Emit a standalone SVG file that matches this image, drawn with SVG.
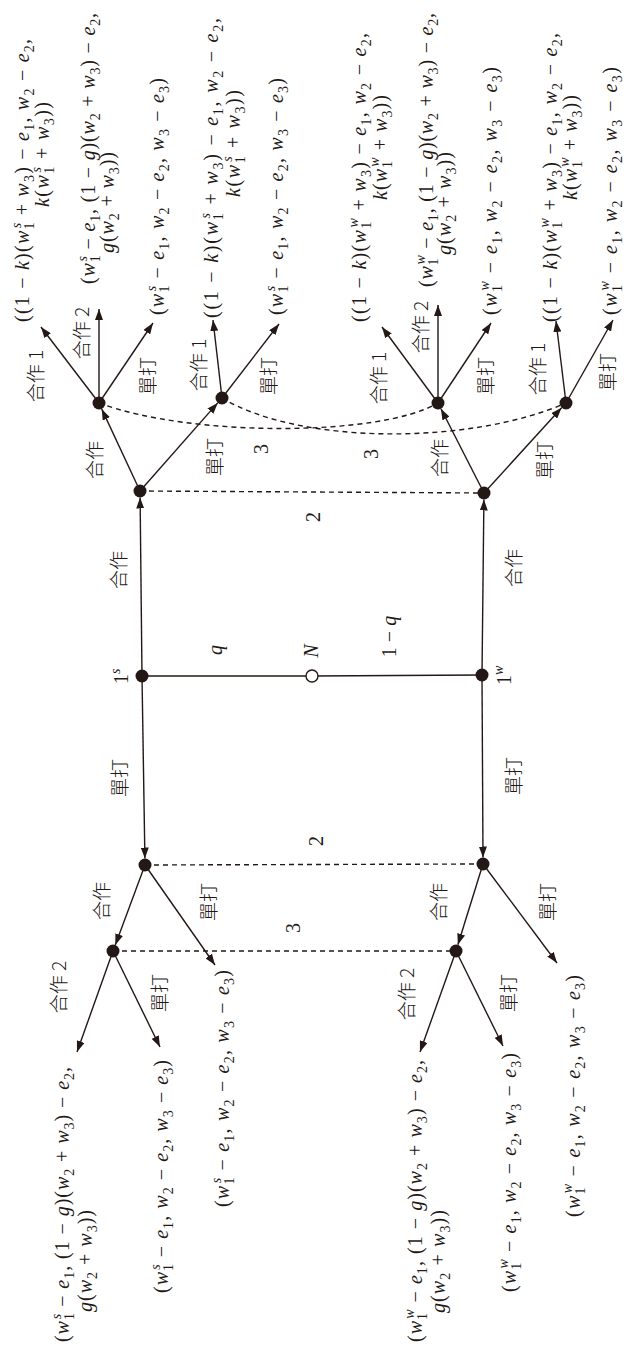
<svg xmlns="http://www.w3.org/2000/svg" width="626" height="1349" viewBox="0 0 626 1349">
<defs>
<marker id="ah" viewBox="0 0 11 8" refX="11" refY="4" markerWidth="11" markerHeight="8" markerUnits="userSpaceOnUse" orient="auto"><path d="M0,0L11,4L0,8z" fill="#231815"/></marker>
<style>
.e{stroke:#231815;stroke-width:1.4;fill:none}
.a{marker-end:url(#ah)}
.d{stroke-dasharray:5 4}
.n{fill:#231815}
.o{fill:#fff;stroke:#231815;stroke-width:1.4}
.m{font-family:"Liberation Serif",serif;font-size:20px;fill:#231815}
.i{font-style:italic}
.s{font-size:14px}
.c{font-family:"Noto Sans CJK TC","Noto Sans CJK SC",sans-serif;font-size:19px;font-weight:300;fill:#231815}
.l{text-anchor:middle;dominant-baseline:central}
</style>
</defs>
<rect width="626" height="1349" fill="#fff"/>
<g id="connectors">
<line class="e" x1="142" y1="676" x2="312" y2="676"/>
<line class="e" x1="312" y1="676" x2="482" y2="675"/>
<line class="e a" x1="142" y1="676" x2="140.1" y2="497.5"/>
<line class="e a" x1="142" y1="676" x2="144.9" y2="858.5"/>
<line class="e a" x1="482" y1="675" x2="483.9" y2="499.5"/>
<line class="e a" x1="482" y1="675" x2="483" y2="857.5"/>
<line class="e d" x1="140" y1="491" x2="484" y2="493"/>
<line class="e d" x1="145" y1="865" x2="483" y2="864"/>
<line class="e d" x1="113" y1="951" x2="456" y2="951"/>
<path class="e d" d="M99,403C190,437 380,437 438,403"/>
<path class="e d" d="M222,398C300,445 470,445 566,403"/>
<line class="e a" x1="140" y1="491" x2="101.7" y2="408.9"/>
<line class="e a" x1="140" y1="491" x2="217.7" y2="402.9"/>
<line class="e a" x1="484" y1="493" x2="441" y2="408.8"/>
<line class="e a" x1="484" y1="493" x2="561.6" y2="407.8"/>
<line class="e a" x1="145" y1="865" x2="115.3" y2="944.9"/>
<line class="e a" x1="483" y1="864" x2="457.9" y2="944.8"/>
<line class="e a" x1="145" y1="865" x2="215" y2="965"/>
<line class="e a" x1="483" y1="864" x2="557" y2="963"/>
<line class="e a" x1="113" y1="951" x2="77" y2="1052"/>
<line class="e a" x1="113" y1="951" x2="160" y2="1047"/>
<line class="e a" x1="456" y1="951" x2="420" y2="1052"/>
<line class="e a" x1="456" y1="951" x2="503" y2="1046"/>
<line class="e a" x1="99" y1="403" x2="41" y2="327"/>
<line class="e a" x1="99" y1="403" x2="99" y2="309"/>
<line class="e a" x1="99" y1="403" x2="153" y2="323"/>
<line class="e a" x1="222" y1="398" x2="213" y2="320"/>
<line class="e a" x1="222" y1="398" x2="279" y2="324"/>
<line class="e a" x1="438" y1="403" x2="382" y2="327"/>
<line class="e a" x1="438" y1="403" x2="438" y2="305"/>
<line class="e a" x1="438" y1="403" x2="491" y2="323"/>
<line class="e a" x1="566" y1="403" x2="556" y2="321"/>
<line class="e a" x1="566" y1="403" x2="613" y2="320"/>
</g>
<g id="n-N"><circle class="o" cx="312" cy="676" r="6"/></g>
<g id="n-1s"><circle class="n" cx="142" cy="676" r="6.5"/></g>
<g id="n-1w"><circle class="n" cx="482" cy="675" r="6.5"/></g>
<g id="n-2s-up"><circle class="n" cx="140" cy="491" r="6.5"/></g>
<g id="n-2w-up"><circle class="n" cx="484" cy="493" r="6.5"/></g>
<g id="n-3s-c"><circle class="n" cx="99" cy="403" r="6.5"/></g>
<g id="n-3s-d"><circle class="n" cx="222" cy="398" r="6.5"/></g>
<g id="n-3w-c"><circle class="n" cx="438" cy="403" r="6.5"/></g>
<g id="n-3w-d"><circle class="n" cx="566" cy="403" r="6.5"/></g>
<g id="n-2s-low"><circle class="n" cx="145" cy="865" r="6.5"/></g>
<g id="n-2w-low"><circle class="n" cx="483" cy="864" r="6.5"/></g>
<g id="n-3s-low"><circle class="n" cx="113" cy="951" r="6.5"/></g>
<g id="n-3w-low"><circle class="n" cx="456" cy="951" r="6.5"/></g>
<g id="labels">
<text class="c l" transform="translate(34,376) rotate(-90)">合作 1</text>
<text class="c l" transform="translate(80,333) rotate(-90)">合作 2</text>
<text class="c l" transform="translate(146,376) rotate(-90)">單打</text>
<text class="c l" transform="translate(197,365) rotate(-90)">合作 1</text>
<text class="c l" transform="translate(267,376) rotate(-90)">單打</text>
<text class="c l" transform="translate(377,378) rotate(-90)">合作 1</text>
<text class="c l" transform="translate(419,327) rotate(-90)">合作 2</text>
<text class="c l" transform="translate(484,376) rotate(-90)">單打</text>
<text class="c l" transform="translate(536,369) rotate(-90)">合作 1</text>
<text class="c l" transform="translate(606,372) rotate(-90)">單打</text>
<text class="c l" transform="translate(93,460) rotate(-90)">合作</text>
<text class="c l" transform="translate(213,457) rotate(-90)">單打</text>
<text class="c l" transform="translate(438,458) rotate(-90)">合作</text>
<text class="c l" transform="translate(543,460) rotate(-90)">單打</text>
<text class="c l" transform="translate(117,570) rotate(-90)">合作</text>
<text class="c l" transform="translate(512,568) rotate(-90)">合作</text>
<text class="c l" transform="translate(118,778) rotate(-90)">單打</text>
<text class="c l" transform="translate(512,776) rotate(-90)">單打</text>
<text class="c l" transform="translate(100,901) rotate(-90)">合作</text>
<text class="c l" transform="translate(207,902) rotate(-90)">單打</text>
<text class="c l" transform="translate(437,902) rotate(-90)">合作</text>
<text class="c l" transform="translate(546,902) rotate(-90)">單打</text>
<text class="c l" transform="translate(57,987) rotate(-90)">合作 2</text>
<text class="c l" transform="translate(158,993) rotate(-90)">單打</text>
<text class="c l" transform="translate(405,994) rotate(-90)">合作 2</text>
<text class="c l" transform="translate(507,993) rotate(-90)">單打</text>
<text class="m" text-anchor="middle" transform="translate(268,449) rotate(-90)">3</text>
<text class="m" text-anchor="middle" transform="translate(378,454) rotate(-90)">3</text>
<text class="m" text-anchor="middle" transform="translate(320,517) rotate(-90)">2</text>
<text class="m" text-anchor="middle" transform="translate(323,841) rotate(-90)">2</text>
<text class="m" text-anchor="middle" transform="translate(300,928) rotate(-90)">3</text>
<text class="m" transform="translate(128,684) rotate(-90)">1<tspan class="s i" dy="-8">s</tspan></text>
<text class="m" transform="translate(511,685) rotate(-90)">1<tspan class="s i" dy="-8">w</tspan></text>
<text class="m i" text-anchor="middle" transform="translate(222,650) rotate(-90)">q</text>
<text class="m i" text-anchor="middle" transform="translate(318,651) rotate(-90)">N</text>
<text class="m" text-anchor="middle" transform="translate(396,636.5) rotate(-90)">1 − <tspan class="i">q</tspan></text>
</g>
<g id="payoff-s-cc1">
<text class="m" transform="translate(29,322) rotate(-90)" textLength="283">((1 − <tspan class="i">k</tspan>)(<tspan class="i">w</tspan><tspan class="s" dy="5">1</tspan><tspan class="s i" dx="-7" dy="-13">s</tspan><tspan dy="8"> + </tspan><tspan class="i">w</tspan><tspan class="s" dy="5">3</tspan><tspan dy="-5">) − </tspan><tspan class="i">e</tspan><tspan class="s" dy="5">1</tspan><tspan dy="-5">, </tspan><tspan class="i">w</tspan><tspan class="s" dy="5">2</tspan><tspan dy="-5"> − </tspan><tspan class="i">e</tspan><tspan class="s" dy="5">2</tspan><tspan dy="-5">,</tspan></text>
<text class="m" transform="translate(49,207) rotate(-90)" textLength="105"><tspan class="i">k</tspan>(<tspan class="i">w</tspan><tspan class="s" dy="5">1</tspan><tspan class="s i" dx="-7" dy="-13">s</tspan><tspan dy="8"> + </tspan><tspan class="i">w</tspan><tspan class="s" dy="5">3</tspan><tspan dy="-5">))</tspan></text>
</g>
<g id="payoff-s-cc2">
<text class="m" transform="translate(95,284) rotate(-90)" textLength="271">(<tspan class="i">w</tspan><tspan class="s" dy="5">1</tspan><tspan class="s i" dx="-7" dy="-13">s</tspan><tspan dy="8"> − </tspan><tspan class="i">e</tspan><tspan class="s" dy="5">1</tspan><tspan dy="-5">, (1 − </tspan><tspan class="i">g</tspan>)(<tspan class="i">w</tspan><tspan class="s" dy="5">2</tspan><tspan dy="-5"> + </tspan><tspan class="i">w</tspan><tspan class="s" dy="5">3</tspan><tspan dy="-5">) − </tspan><tspan class="i">e</tspan><tspan class="s" dy="5">2</tspan><tspan dy="-5">,</tspan></text>
<text class="m" transform="translate(114,253) rotate(-90)" textLength="101"><tspan class="i">g</tspan>(<tspan class="i">w</tspan><tspan class="s" dy="5">2</tspan><tspan dy="-5"> + </tspan><tspan class="i">w</tspan><tspan class="s" dy="5">3</tspan><tspan dy="-5">))</tspan></text>
</g>
<g id="payoff-s-cd">
<text class="m" transform="translate(164,315) rotate(-90)" textLength="237">(<tspan class="i">w</tspan><tspan class="s" dy="5">1</tspan><tspan class="s i" dx="-7" dy="-13">s</tspan><tspan dy="8"> − </tspan><tspan class="i">e</tspan><tspan class="s" dy="5">1</tspan><tspan dy="-5">, </tspan><tspan class="i">w</tspan><tspan class="s" dy="5">2</tspan><tspan dy="-5"> − </tspan><tspan class="i">e</tspan><tspan class="s" dy="5">2</tspan><tspan dy="-5">, </tspan><tspan class="i">w</tspan><tspan class="s" dy="5">3</tspan><tspan dy="-5"> − </tspan><tspan class="i">e</tspan><tspan class="s" dy="5">3</tspan><tspan dy="-5">)</tspan></text>
</g>
<g id="payoff-s-dc">
<text class="m" transform="translate(218,318) rotate(-90)" textLength="300">((1 − <tspan class="i">k</tspan>)(<tspan class="i">w</tspan><tspan class="s" dy="5">1</tspan><tspan class="s i" dx="-7" dy="-13">s</tspan><tspan dy="8"> + </tspan><tspan class="i">w</tspan><tspan class="s" dy="5">3</tspan><tspan dy="-5">) − </tspan><tspan class="i">e</tspan><tspan class="s" dy="5">1</tspan><tspan dy="-5">, </tspan><tspan class="i">w</tspan><tspan class="s" dy="5">2</tspan><tspan dy="-5"> − </tspan><tspan class="i">e</tspan><tspan class="s" dy="5">2</tspan><tspan dy="-5">,</tspan></text>
<text class="m" transform="translate(240,197) rotate(-90)" textLength="107"><tspan class="i">k</tspan>(<tspan class="i">w</tspan><tspan class="s" dy="5">1</tspan><tspan class="s i" dx="-7" dy="-13">s</tspan><tspan dy="8"> + </tspan><tspan class="i">w</tspan><tspan class="s" dy="5">3</tspan><tspan dy="-5">))</tspan></text>
</g>
<g id="payoff-s-dd">
<text class="m" transform="translate(283,315) rotate(-90)" textLength="237">(<tspan class="i">w</tspan><tspan class="s" dy="5">1</tspan><tspan class="s i" dx="-7" dy="-13">s</tspan><tspan dy="8"> − </tspan><tspan class="i">e</tspan><tspan class="s" dy="5">1</tspan><tspan dy="-5">, </tspan><tspan class="i">w</tspan><tspan class="s" dy="5">2</tspan><tspan dy="-5"> − </tspan><tspan class="i">e</tspan><tspan class="s" dy="5">2</tspan><tspan dy="-5">, </tspan><tspan class="i">w</tspan><tspan class="s" dy="5">3</tspan><tspan dy="-5"> − </tspan><tspan class="i">e</tspan><tspan class="s" dy="5">3</tspan><tspan dy="-5">)</tspan></text>
</g>
<g id="payoff-w-cc1">
<text class="m" transform="translate(366,322) rotate(-90)" textLength="289">((1 − <tspan class="i">k</tspan>)(<tspan class="i">w</tspan><tspan class="s" dy="5">1</tspan><tspan class="s i" dx="-7" dy="-13">w</tspan><tspan dy="8"> + </tspan><tspan class="i">w</tspan><tspan class="s" dy="5">3</tspan><tspan dy="-5">) − </tspan><tspan class="i">e</tspan><tspan class="s" dy="5">1</tspan><tspan dy="-5">, </tspan><tspan class="i">w</tspan><tspan class="s" dy="5">2</tspan><tspan dy="-5"> − </tspan><tspan class="i">e</tspan><tspan class="s" dy="5">2</tspan><tspan dy="-5">,</tspan></text>
<text class="m" transform="translate(387,200) rotate(-90)" textLength="105"><tspan class="i">k</tspan>(<tspan class="i">w</tspan><tspan class="s" dy="5">1</tspan><tspan class="s i" dx="-7" dy="-13">w</tspan><tspan dy="8"> + </tspan><tspan class="i">w</tspan><tspan class="s" dy="5">3</tspan><tspan dy="-5">))</tspan></text>
</g>
<g id="payoff-w-cc2">
<text class="m" transform="translate(433,287) rotate(-90)" textLength="274">(<tspan class="i">w</tspan><tspan class="s" dy="5">1</tspan><tspan class="s i" dx="-7" dy="-13">w</tspan><tspan dy="8"> − </tspan><tspan class="i">e</tspan><tspan class="s" dy="5">1</tspan><tspan dy="-5">, (1 − </tspan><tspan class="i">g</tspan>)(<tspan class="i">w</tspan><tspan class="s" dy="5">2</tspan><tspan dy="-5"> + </tspan><tspan class="i">w</tspan><tspan class="s" dy="5">3</tspan><tspan dy="-5">) − </tspan><tspan class="i">e</tspan><tspan class="s" dy="5">2</tspan><tspan dy="-5">,</tspan></text>
<text class="m" transform="translate(451,255) rotate(-90)" textLength="103"><tspan class="i">g</tspan>(<tspan class="i">w</tspan><tspan class="s" dy="5">2</tspan><tspan dy="-5"> + </tspan><tspan class="i">w</tspan><tspan class="s" dy="5">3</tspan><tspan dy="-5">))</tspan></text>
</g>
<g id="payoff-w-cd">
<text class="m" transform="translate(497,315) rotate(-90)" textLength="248">(<tspan class="i">w</tspan><tspan class="s" dy="5">1</tspan><tspan class="s i" dx="-7" dy="-13">w</tspan><tspan dy="8"> − </tspan><tspan class="i">e</tspan><tspan class="s" dy="5">1</tspan><tspan dy="-5">, </tspan><tspan class="i">w</tspan><tspan class="s" dy="5">2</tspan><tspan dy="-5"> − </tspan><tspan class="i">e</tspan><tspan class="s" dy="5">2</tspan><tspan dy="-5">, </tspan><tspan class="i">w</tspan><tspan class="s" dy="5">3</tspan><tspan dy="-5"> − </tspan><tspan class="i">e</tspan><tspan class="s" dy="5">3</tspan><tspan dy="-5">)</tspan></text>
</g>
<g id="payoff-w-dc">
<text class="m" transform="translate(557,322) rotate(-90)" textLength="289">((1 − <tspan class="i">k</tspan>)(<tspan class="i">w</tspan><tspan class="s" dy="5">1</tspan><tspan class="s i" dx="-7" dy="-13">w</tspan><tspan dy="8"> + </tspan><tspan class="i">w</tspan><tspan class="s" dy="5">3</tspan><tspan dy="-5">) − </tspan><tspan class="i">e</tspan><tspan class="s" dy="5">1</tspan><tspan dy="-5">, </tspan><tspan class="i">w</tspan><tspan class="s" dy="5">2</tspan><tspan dy="-5"> − </tspan><tspan class="i">e</tspan><tspan class="s" dy="5">2</tspan><tspan dy="-5">,</tspan></text>
<text class="m" transform="translate(577,200) rotate(-90)" textLength="105"><tspan class="i">k</tspan>(<tspan class="i">w</tspan><tspan class="s" dy="5">1</tspan><tspan class="s i" dx="-7" dy="-13">w</tspan><tspan dy="8"> + </tspan><tspan class="i">w</tspan><tspan class="s" dy="5">3</tspan><tspan dy="-5">))</tspan></text>
</g>
<g id="payoff-w-dd">
<text class="m" transform="translate(617,315) rotate(-90)" textLength="248">(<tspan class="i">w</tspan><tspan class="s" dy="5">1</tspan><tspan class="s i" dx="-7" dy="-13">w</tspan><tspan dy="8"> − </tspan><tspan class="i">e</tspan><tspan class="s" dy="5">1</tspan><tspan dy="-5">, </tspan><tspan class="i">w</tspan><tspan class="s" dy="5">2</tspan><tspan dy="-5"> − </tspan><tspan class="i">e</tspan><tspan class="s" dy="5">2</tspan><tspan dy="-5">, </tspan><tspan class="i">w</tspan><tspan class="s" dy="5">3</tspan><tspan dy="-5"> − </tspan><tspan class="i">e</tspan><tspan class="s" dy="5">3</tspan><tspan dy="-5">)</tspan></text>
</g>
<g id="payoff-s-low-c2">
<text class="m" transform="translate(69,1342) rotate(-90)" textLength="275">(<tspan class="i">w</tspan><tspan class="s" dy="5">1</tspan><tspan class="s i" dx="-7" dy="-13">s</tspan><tspan dy="8"> − </tspan><tspan class="i">e</tspan><tspan class="s" dy="5">1</tspan><tspan dy="-5">, (1 − </tspan><tspan class="i">g</tspan>)(<tspan class="i">w</tspan><tspan class="s" dy="5">2</tspan><tspan dy="-5"> + </tspan><tspan class="i">w</tspan><tspan class="s" dy="5">3</tspan><tspan dy="-5">) − </tspan><tspan class="i">e</tspan><tspan class="s" dy="5">2</tspan><tspan dy="-5">,</tspan></text>
<text class="m" transform="translate(92,1312) rotate(-90)" textLength="102"><tspan class="i">g</tspan>(<tspan class="i">w</tspan><tspan class="s" dy="5">2</tspan><tspan dy="-5"> + </tspan><tspan class="i">w</tspan><tspan class="s" dy="5">3</tspan><tspan dy="-5">))</tspan></text>
</g>
<g id="payoff-s-low-cd">
<text class="m" transform="translate(168,1293) rotate(-90)" textLength="233">(<tspan class="i">w</tspan><tspan class="s" dy="5">1</tspan><tspan class="s i" dx="-7" dy="-13">s</tspan><tspan dy="8"> − </tspan><tspan class="i">e</tspan><tspan class="s" dy="5">1</tspan><tspan dy="-5">, </tspan><tspan class="i">w</tspan><tspan class="s" dy="5">2</tspan><tspan dy="-5"> − </tspan><tspan class="i">e</tspan><tspan class="s" dy="5">2</tspan><tspan dy="-5">, </tspan><tspan class="i">w</tspan><tspan class="s" dy="5">3</tspan><tspan dy="-5"> − </tspan><tspan class="i">e</tspan><tspan class="s" dy="5">3</tspan><tspan dy="-5">)</tspan></text>
</g>
<g id="payoff-s-low-d">
<text class="m" transform="translate(229,1207) rotate(-90)" textLength="237">(<tspan class="i">w</tspan><tspan class="s" dy="5">1</tspan><tspan class="s i" dx="-7" dy="-13">s</tspan><tspan dy="8"> − </tspan><tspan class="i">e</tspan><tspan class="s" dy="5">1</tspan><tspan dy="-5">, </tspan><tspan class="i">w</tspan><tspan class="s" dy="5">2</tspan><tspan dy="-5"> − </tspan><tspan class="i">e</tspan><tspan class="s" dy="5">2</tspan><tspan dy="-5">, </tspan><tspan class="i">w</tspan><tspan class="s" dy="5">3</tspan><tspan dy="-5"> − </tspan><tspan class="i">e</tspan><tspan class="s" dy="5">3</tspan><tspan dy="-5">)</tspan></text>
</g>
<g id="payoff-w-low-c2">
<text class="m" transform="translate(422,1342) rotate(-90)" textLength="282">(<tspan class="i">w</tspan><tspan class="s" dy="5">1</tspan><tspan class="s i" dx="-7" dy="-13">w</tspan><tspan dy="8"> − </tspan><tspan class="i">e</tspan><tspan class="s" dy="5">1</tspan><tspan dy="-5">, (1 − </tspan><tspan class="i">g</tspan>)(<tspan class="i">w</tspan><tspan class="s" dy="5">2</tspan><tspan dy="-5"> + </tspan><tspan class="i">w</tspan><tspan class="s" dy="5">3</tspan><tspan dy="-5">) − </tspan><tspan class="i">e</tspan><tspan class="s" dy="5">2</tspan><tspan dy="-5">,</tspan></text>
<text class="m" transform="translate(445,1313) rotate(-90)" textLength="103"><tspan class="i">g</tspan>(<tspan class="i">w</tspan><tspan class="s" dy="5">2</tspan><tspan dy="-5"> + </tspan><tspan class="i">w</tspan><tspan class="s" dy="5">3</tspan><tspan dy="-5">))</tspan></text>
</g>
<g id="payoff-w-low-cd">
<text class="m" transform="translate(516,1292) rotate(-90)" textLength="239">(<tspan class="i">w</tspan><tspan class="s" dy="5">1</tspan><tspan class="s i" dx="-7" dy="-13">w</tspan><tspan dy="8"> − </tspan><tspan class="i">e</tspan><tspan class="s" dy="5">1</tspan><tspan dy="-5">, </tspan><tspan class="i">w</tspan><tspan class="s" dy="5">2</tspan><tspan dy="-5"> − </tspan><tspan class="i">e</tspan><tspan class="s" dy="5">2</tspan><tspan dy="-5">, </tspan><tspan class="i">w</tspan><tspan class="s" dy="5">3</tspan><tspan dy="-5"> − </tspan><tspan class="i">e</tspan><tspan class="s" dy="5">3</tspan><tspan dy="-5">)</tspan></text>
</g>
<g id="payoff-w-low-d">
<text class="m" transform="translate(580,1217) rotate(-90)" textLength="242">(<tspan class="i">w</tspan><tspan class="s" dy="5">1</tspan><tspan class="s i" dx="-7" dy="-13">w</tspan><tspan dy="8"> − </tspan><tspan class="i">e</tspan><tspan class="s" dy="5">1</tspan><tspan dy="-5">, </tspan><tspan class="i">w</tspan><tspan class="s" dy="5">2</tspan><tspan dy="-5"> − </tspan><tspan class="i">e</tspan><tspan class="s" dy="5">2</tspan><tspan dy="-5">, </tspan><tspan class="i">w</tspan><tspan class="s" dy="5">3</tspan><tspan dy="-5"> − </tspan><tspan class="i">e</tspan><tspan class="s" dy="5">3</tspan><tspan dy="-5">)</tspan></text>
</g>
</svg>
